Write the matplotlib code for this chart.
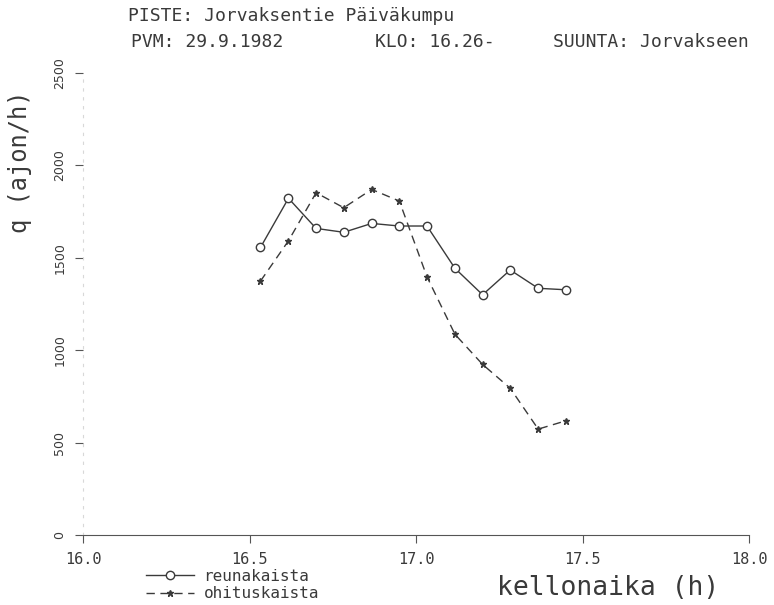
import matplotlib.pyplot as plt

# Traffic volume per 5 min interval, converted to vehicles/hour
times = [16.533, 16.617, 16.700, 16.783, 16.867, 16.950,
         17.033, 17.117, 17.200, 17.283, 17.367, 17.450]
reuna = [1556, 1822, 1659, 1638, 1686, 1672,
         1672, 1443, 1300, 1434, 1335, 1327]
ohitus = [1374, 1592, 1852, 1771, 1870, 1807,
          1397, 1086, 923, 794, 573, 618]

x_ticks = [16.0, 16.5, 17.0, 17.5, 18.0]
y_ticks = [0, 500, 1000, 1500, 2000, 2500]

ink = "#3a3a3a"
mono = "DejaVu Sans Mono"

fig = plt.figure(figsize=(7.74, 6.05), dpi=100)
ax = fig.add_axes([83 / 774, 1 - 535 / 605, (749 - 83) / 774, (535 - 73) / 605])

ax.plot(times, reuna, color=ink, lw=1.0, marker="o", ms=6,
        mfc="white", mec=ink, mew=1.0, label="reunakaista")
ax.plot(times, ohitus, color=ink, lw=1.0, ls=(0, (6, 4)), marker="*",
        ms=5, mfc=ink, mec=ink, label="ohituskaista")

ax.set_xlim(16.0, 18.0)
ax.set_ylim(0, 2500)
ax.set_xticks(x_ticks)
ax.set_xticklabels([f"{t:.1f}" for t in x_ticks], family=mono, fontsize=11, color=ink)
ax.set_yticks(y_ticks)
ax.set_yticklabels([str(v) for v in y_ticks], fontsize=9, color=ink,
                   rotation=90, va="center")

for side in ("top", "right"):
    ax.spines[side].set_visible(False)
ax.spines["left"].set_color("#d8d8d8")
ax.spines["left"].set_linestyle((0, (2, 6)))
ax.spines["bottom"].set_color("#555555")
ax.tick_params(axis="x", direction="out", length=6, color="#555555", pad=6)
ax.tick_params(axis="y", direction="out", length=6, color="#555555", pad=6)

# header lines
head = dict(family=mono, fontsize=13, color=ink, va="center")
fig.text(128 / 774, 1 - 16 / 605, "PISTE: Jorvaksentie Päiväkumpu", **head)
fig.text(131 / 774, 1 - 42 / 605, "PVM: 29.9.1982", **head)
fig.text(375 / 774, 1 - 42 / 605, "KLO: 16.26-", **head)
fig.text(553 / 774, 1 - 42 / 605, "SUUNTA: Jorvakseen", **head)

fig.text(20 / 774, 1 - 162 / 605, "q (ajon/h)", family=mono, fontsize=17,
         color=ink, rotation=90, ha="center", va="center")
fig.text(497 / 774, 1 - 588 / 605, "kellonaika (h)", family=mono,
         fontsize=19, color=ink, va="center")

ax.legend(loc="upper left", bbox_to_anchor=(138 / 774, 1 - 561 / 605),
          bbox_transform=fig.transFigure, frameon=False,
          prop={"family": mono, "size": 11.5}, handlelength=3,
          handletextpad=0.6, labelcolor=ink, borderpad=0, labelspacing=0.15)

fig.savefig("out.png", dpi=100)
